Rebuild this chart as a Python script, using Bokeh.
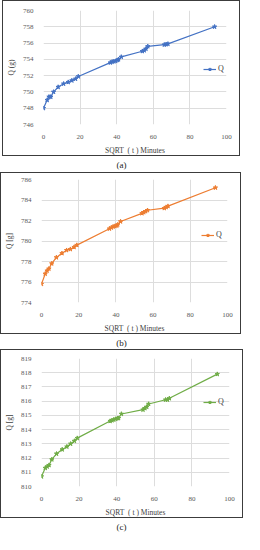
from bokeh.plotting import figure
from bokeh.models import Div, Legend, LegendItem, FixedTicker, Range1d
from bokeh.layouts import column
from bokeh.embed import file_html
from bokeh.resources import INLINE

# SQRT(t) in minutes (shared x values)
x_sqrt = [0, 2, 3, 4, 5.5, 8, 11, 13.5, 15.5, 17.5, 19, 36.5, 37.5, 38.5, 39.5,
          40.5, 41, 42.5, 54, 55, 56, 57, 66, 67, 68, 93.5]

# Panel (a)
q_a = [748.0, 749.0, 749.4, 749.4, 750.0, 750.6, 751.0, 751.2, 751.4, 751.6, 751.9,
       753.6, 753.7, 753.75, 753.8, 753.9, 754.0, 754.3, 755.0, 755.1, 755.3, 755.6,
       755.8, 755.85, 755.9, 758.0]
# Panel (b)
q_b = [775.8, 776.8, 777.1, 777.3, 777.8, 778.4, 778.8, 779.1, 779.2, 779.4, 779.6,
       781.2, 781.3, 781.4, 781.45, 781.5, 781.6, 781.9, 782.7, 782.8, 782.9, 783.0,
       783.2, 783.3, 783.4, 785.2]
# Panel (c)
q_c = [810.7, 811.3, 811.4, 811.5, 811.9, 812.3, 812.6, 812.8, 813.0, 813.2, 813.4,
       814.6, 814.65, 814.7, 814.75, 814.8, 814.8, 815.1, 815.4, 815.5, 815.6, 815.8,
       816.1, 816.1, 816.2, 817.9]

x_ticks = [0, 20, 40, 60, 80, 100]
y_ticks_a = [746, 748, 750, 752, 754, 756, 758, 760]
y_ticks_b = [774, 776, 778, 780, 782, 784, 786]
y_ticks_c = [810, 811, 812, 813, 814, 815, 816, 817, 818, 819]

panel_labels = ["(a)", "(b)", "(c)"]
y_titles = ["Q (g)", "Q [g]", "Q [g]"]
x_title = "SQRT\u00a0\u00a0( t ) Minutes"
series_name = "Q"
colors = ["#4472C4", "#ED7D31", "#70AD47"]

FONT = "Liberation Serif"


def make_panel(q, yticks, ytitle, color, w, h, left, right, top, bottom, leg_xy,
               extra_styles=None):
    p = figure(width=w, height=h, output_backend="svg", toolbar_location=None,
               x_range=Range1d(0, 100), y_range=Range1d(yticks[0], yticks[-1]),
               min_border_left=left, min_border_right=right,
               min_border_top=top, min_border_bottom=bottom)
    st = {"border": "1.5px solid #3c3c3c"}
    if extra_styles:
        st.update(extra_styles)
    p.styles = st
    p.outline_line_color = None
    r_line = p.line(x_sqrt, q, line_color=color, line_width=1.2)
    r_pts = p.scatter(x_sqrt, q, marker="star", size=4.5, fill_color=color,
                      line_color=color)
    for ax in (p.xaxis[0], p.yaxis[0]):
        ax.axis_line_color = None
        ax.major_tick_line_color = None
        ax.minor_tick_line_color = None
        ax.major_label_text_font = FONT
        ax.major_label_text_font_size = "7px"
        ax.major_label_text_color = "#595959"
        ax.axis_label_text_font = FONT
        ax.axis_label_text_font_size = "7.5px"
        ax.axis_label_text_font_style = "normal"
        ax.axis_label_text_color = "#404040"
        ax.major_label_standoff = 4
        ax.axis_label_standoff = 4
    p.xaxis.ticker = FixedTicker(ticks=x_ticks)
    p.yaxis.ticker = FixedTicker(ticks=yticks)
    p.xaxis.axis_label = x_title
    p.yaxis.axis_label = ytitle
    p.xgrid.ticker = FixedTicker(ticks=x_ticks)
    p.ygrid.ticker = FixedTicker(ticks=yticks)
    p.grid.grid_line_color = "#dddddd"
    p.grid.grid_line_width = 1
    leg = Legend(items=[LegendItem(label=series_name, renderers=[r_line, r_pts])],
                 location=leg_xy, border_line_color=None, background_fill_alpha=0,
                 label_text_font=FONT, label_text_font_size="8px",
                 label_text_color="#404040", glyph_width=13, glyph_height=8,
                 label_standoff=2, padding=0, margin=0, spacing=0,
                 label_height=8)
    p.add_layout(leg)
    return p


def make_label(text, w, h):
    return Div(text=f'<div style="text-align:center;font-family:\'{FONT}\';'
                    f'font-size:9px;color:#222;width:{w}px;">{text}</div>',
               width=w, height=h, styles={"margin": "0"})


pa = make_panel(q_a, y_ticks_a, y_titles[0], colors[0], 238, 156, 33, 15, 9, 25, (160, 51),
                extra_styles={"margin-left": "2px"})
pb = make_panel(q_b, y_ticks_b, y_titles[1], colors[1], 241, 162, 36, 13, 6, 27, (160, 63))
pc = make_panel(q_c, y_ticks_c, y_titles[2], colors[2], 243, 169, 30, 14, 8, 27, (162, 80))

la = make_label(panel_labels[0], 243, 16)
lb = make_label(panel_labels[1], 243, 15)
lc = make_label(panel_labels[2], 243, 16)

layout = column(pa, la, pb, lb, pc, lc, spacing=0)
open("out.html", "w").write(file_html(layout, INLINE))
